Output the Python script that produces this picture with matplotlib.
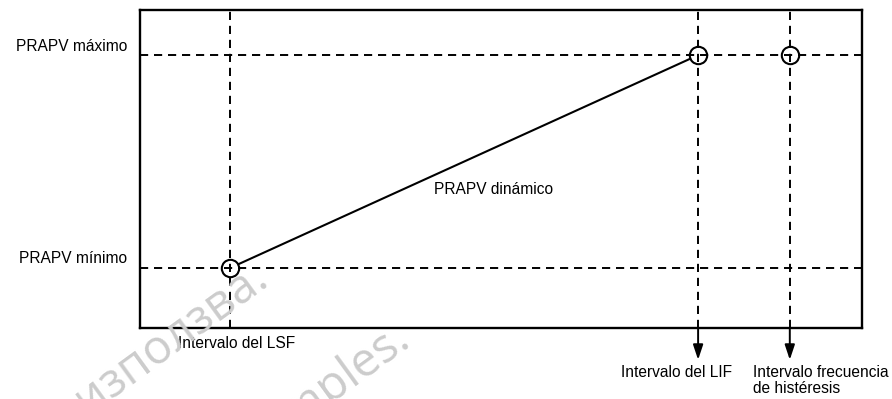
import matplotlib
matplotlib.use("Agg")
import matplotlib.pyplot as plt

# --- data (schematic positions in axis units) ---
x_labels = ["Intervalo del LSF", "Intervalo del LIF", "Intervalo frecuencia\nde histéresis"]
x_values = [1.25, 7.73, 9.0]          # LSF, LIF, hysteresis interval
y_labels = ["PRAPV mínimo", "PRAPV máximo"]
y_values = [1.89, 8.58]               # minimum, maximum PRAPV
line_label = "PRAPV dinámico"
line_x = [x_values[0], x_values[1]]
line_y = [y_values[0], y_values[1]]
circle_x = [x_values[0], x_values[1], x_values[2]]
circle_y = [y_values[0], y_values[1], y_values[1]]

plt.rcParams['font.family'] = ['Liberation Sans', 'DejaVu Sans']
FS = 11.2

fig = plt.figure(figsize=(8.92, 3.99), dpi=100)
ax = fig.add_axes([140/892, 1-328/399, 722/892, 318/399])
ax.patch.set_alpha(0)
ax.set_xlim(0, 10)
ax.set_ylim(0, 10)
ax.set_xticks([])
ax.set_yticks([])
for s in ax.spines.values():
    s.set_linewidth(1.7)

dash = (0, (4.2, 3.0))
for yv in y_values:
    ax.axhline(yv, color='black', lw=1.4, linestyle=dash, zorder=3)
for xv in x_values:
    ax.axvline(xv, color='black', lw=1.4, linestyle=dash, zorder=3)

ax.plot(line_x, line_y, color='black', lw=1.5, zorder=1)
ax.plot(circle_x, circle_y, linestyle='none', marker='o', markersize=12.5,
        markerfacecolor='white', markeredgecolor='black', markeredgewidth=1.5, zorder=2)

# y labels
for lab, yv in zip(y_labels, y_values):
    ax.annotate(lab, xy=(0, yv), xycoords=('axes fraction', 'data'),
                xytext=(-13, 9), textcoords='offset pixels',
                ha='right', va='center', fontsize=FS, annotation_clip=False)

# dynamic label
ax.annotate(line_label, xy=(4.9, 4.35), xycoords='data', ha='center', va='center', fontsize=FS)

# LSF label (no arrow)
ax.annotate(x_labels[0], xy=(x_values[0], 0), xycoords=('data', 'axes fraction'),
            xytext=(-52, -15), textcoords='offset pixels', ha='left', va='center',
            fontsize=FS, annotation_clip=False)

# arrows with labels for LIF and hysteresis
offsets = [(34, 'right'), (-37, 'left')]
for lab, xv, (off, ha) in zip(x_labels[1:], x_values[1:], offsets):
    ax.annotate('', xy=(xv, -0.1), xycoords=('data', 'axes fraction'),
                xytext=(xv, 0), textcoords=('data', 'axes fraction'),
                arrowprops=dict(arrowstyle='-|>,head_length=0.9,head_width=0.3',
                                color='black', lw=1.4, shrinkA=0, shrinkB=0),
                annotation_clip=False)
    ax.annotate(lab, xy=(xv, 0), xycoords=('data', 'axes fraction'),
                xytext=(off, -37), textcoords='offset pixels', ha=ha, va='top',
                fontsize=FS, linespacing=1.1, annotation_clip=False,
                multialignment='left')

# faint watermark
wm = dict(color='#cccccc', fontsize=34, rotation=36, ha='right', va='baseline',
          rotation_mode='anchor', zorder=0, family=['Open Sans', 'DejaVu Sans'])
fig.text(270/892, 1-284/399, "Да не се използва.", **wm)
fig.text(413/892, 1-345/399, "Only for samples.", **wm)

fig.savefig("out.png", dpi=100)
